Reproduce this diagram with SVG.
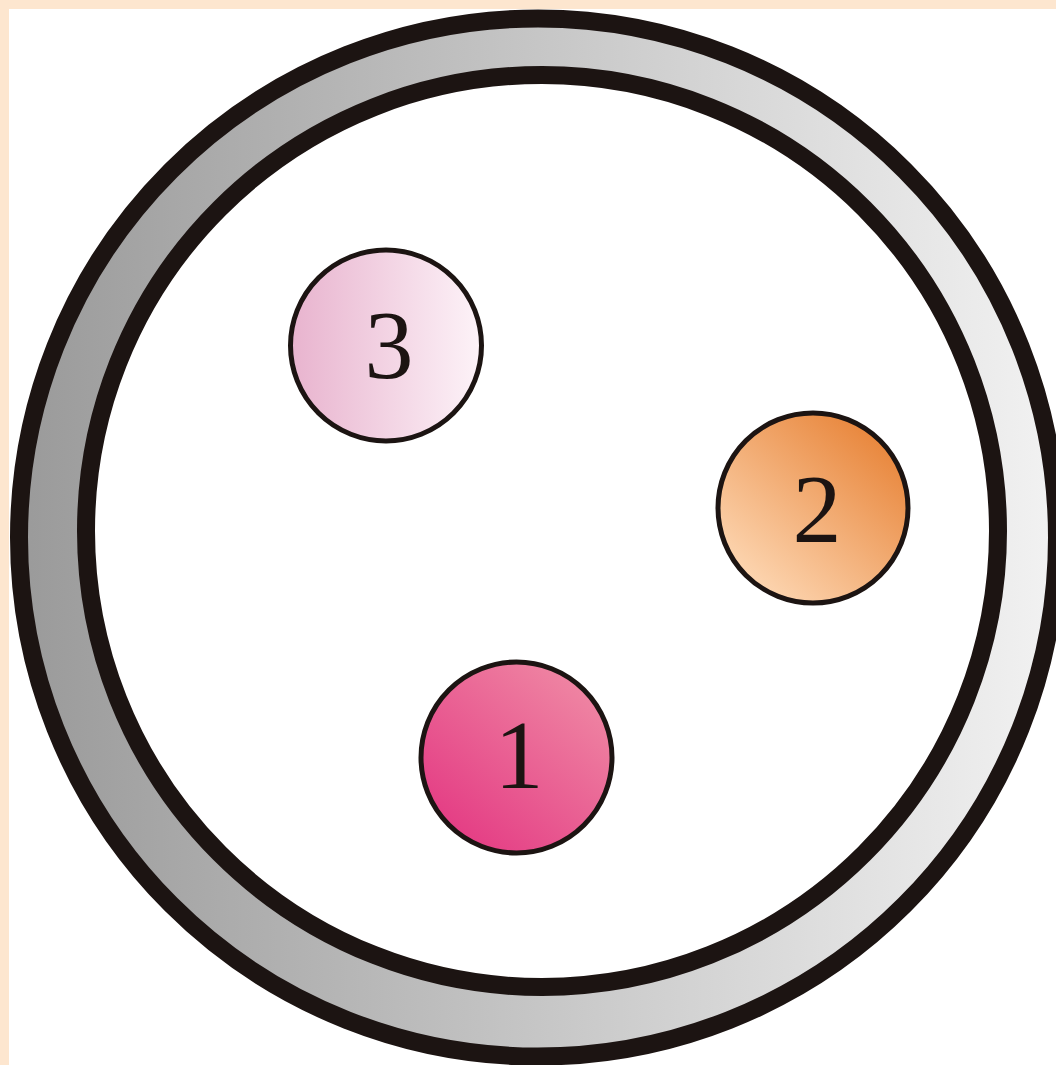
<svg xmlns="http://www.w3.org/2000/svg" width="1056" height="1065" viewBox="0 0 1056 1065">
  <style>
    .ring { stroke: #1c1412; stroke-width: 18; }
    .node circle { stroke: #1c1412; stroke-width: 5; }
    .node text { font-family: "Liberation Serif", "Times New Roman", serif; font-size: 98px; fill: #1c1412; text-anchor: middle; }
  </style>
  <defs>
    <linearGradient id="gGrey" x1="0" y1="0" x2="1" y2="0">
      <stop offset="0" stop-color="#9a9a9a"/>
      <stop offset="0.5" stop-color="#c6c6c6"/>
      <stop offset="1" stop-color="#f2f2f2"/>
    </linearGradient>
    <linearGradient id="g3" x1="0" y1="0" x2="1" y2="0">
      <stop offset="0" stop-color="#e8b3ce"/>
      <stop offset="1" stop-color="#fdf3f8"/>
    </linearGradient>
    <linearGradient id="g2" x1="0.15" y1="0.9" x2="0.85" y2="0.1">
      <stop offset="0" stop-color="#fdd7b3"/>
      <stop offset="1" stop-color="#e8853a"/>
    </linearGradient>
    <linearGradient id="g1" x1="0.15" y1="0.9" x2="0.85" y2="0.1">
      <stop offset="0" stop-color="#e43c84"/>
      <stop offset="1" stop-color="#ef86a3"/>
    </linearGradient>
  </defs>
  <rect x="0" y="0" width="1056" height="1065" fill="#ffffff"/>
  <rect x="0" y="0" width="1056" height="9" fill="#fde6cf"/>
  <rect x="0" y="0" width="9" height="1065" fill="#fde6cf"/>
  <g id="outer-ring">
    <circle class="ring" cx="538" cy="537.5" r="519" fill="url(#gGrey)"/>
  </g>
  <g id="inner-ring">
    <circle class="ring" cx="542" cy="531" r="456" fill="#ffffff"/>
  </g>
  <g id="connectors"></g>
  <g id="node3" class="node">
    <circle cx="386" cy="345.5" r="95.5" fill="url(#g3)"/>
    <text x="389" y="378">3</text>
  </g>
  <g id="node2" class="node">
    <circle cx="813" cy="508" r="95" fill="url(#g2)"/>
    <text x="817" y="542">2</text>
  </g>
  <g id="node1" class="node">
    <circle cx="516.5" cy="757.5" r="95.5" fill="url(#g1)"/>
    <text x="519" y="788">1</text>
  </g>
</svg>
